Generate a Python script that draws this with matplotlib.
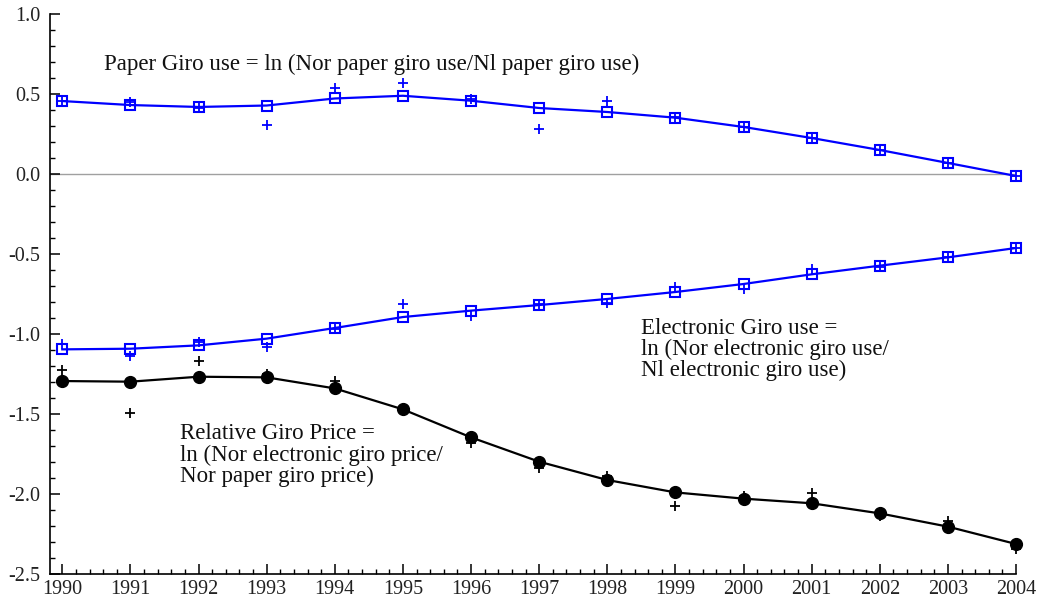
import matplotlib
matplotlib.use("Agg")
import matplotlib.pyplot as plt
from matplotlib.ticker import MultipleLocator, FormatStrFormatter

plt.rcParams['font.family'] = ['Liberation Serif', 'DejaVu Serif']
plt.rcParams['axes.unicode_minus'] = False

years = list(range(1990, 2005))

paper_fit = [0.456, 0.431, 0.419, 0.428, 0.472, 0.489, 0.458, 0.4125, 0.3875, 0.352,
             0.294, 0.225, 0.150, 0.069, -0.0125]
paper_act = [0.456, 0.450, 0.410, 0.304, 0.540, 0.571, 0.466, 0.279, 0.454, 0.356,
             0.294, 0.225, 0.150, 0.069, -0.0125]

elec_fit = [-1.096, -1.092, -1.071, -1.029, -0.9625, -0.894, -0.854, -0.819, -0.781, -0.7375,
            -0.6875, -0.627, -0.573, -0.521, -0.4625]
elec_act = [-1.065, -1.1375, -1.048, -1.079, -0.970, -0.815, -0.885, -0.810, -0.806, -0.708,
            -0.717, -0.596, -0.580, -0.520, -0.4625]

price_fit = [-1.294, -1.298, -1.267, -1.271, -1.340, -1.471, -1.646, -1.798, -1.9125, -1.990,
             -2.029, -2.058, -2.121, -2.204, -2.3125]
price_act = [-1.227, -1.496, -1.167, -1.250, -1.296, -1.460, -1.683, -1.840, -1.890, -2.075,
             -2.0125, -1.996, -2.140, -2.167, -2.344]

xtick_labels = [str(y) for y in years]

fig = plt.figure(figsize=(10.4, 5.98), dpi=100)
ax = fig.add_axes([50/1040, 1-574/598, (1016-50)/1040, (574-14)/598])

blue = '#0000ff'
ax.axhline(0, color='#a0a0a0', lw=1, zorder=1)

ax.plot(years, paper_act, ls='none', marker='+', ms=7, mec=blue, mew=1.3, clip_on=False, zorder=3)
ax.plot(years, paper_fit, color=blue, lw=1.6, marker='s', ms=6.5, mfc='none', mec=blue, mew=1.5, clip_on=False, zorder=4)
ax.plot(years, elec_act, ls='none', marker='+', ms=7, mec=blue, mew=1.3, clip_on=False, zorder=3)
ax.plot(years, elec_fit, color=blue, lw=1.6, marker='s', ms=6.5, mfc='none', mec=blue, mew=1.5, clip_on=False, zorder=4)
ax.plot(years, price_act, ls='none', marker='+', ms=7, mec='black', mew=1.3, clip_on=False, zorder=3)
ax.plot(years, price_fit, color='black', lw=1.6, marker='o', ms=8.5, mfc='black', mec='black', clip_on=False, zorder=4)

ax.set_xlim(1989.82, 2004)
ax.set_ylim(-2.5, 1.0)
ax.set_xticks(years)
ax.set_xticklabels(xtick_labels)
ax.xaxis.set_minor_locator(MultipleLocator(0.2))
ax.yaxis.set_major_locator(MultipleLocator(0.5))
ax.yaxis.set_minor_locator(MultipleLocator(0.1))
ax.yaxis.set_major_formatter(FormatStrFormatter('%.1f'))

for s in ['top', 'right']:
    ax.spines[s].set_visible(False)
for s in ['left', 'bottom']:
    ax.spines[s].set_linewidth(1.2)

ax.tick_params(axis='both', which='major', direction='in', length=7, width=1.1, labelsize=14.5, colors='black')
ax.tick_params(axis='both', which='minor', direction='in', length=3.5, width=1.0)
ax.tick_params(axis='y', which='major', pad=7)
ax.tick_params(axis='x', which='major', pad=4)
for lbl in ax.get_xticklabels() + ax.get_yticklabels():
    lbl.set_color('#222222')

fs = 16.5
txtc = '#111111'
def px2data(px, py):
    x = 1990 + (px - 62) / 68.14
    y = (174 - py) / 160
    return x, y

x, y = px2data(104, 70)
ax.text(x, y, 'Paper Giro use = ln (Nor paper giro use/Nl paper giro use)', fontsize=fs, va='baseline', ha='left', color=txtc)

for i, line in enumerate(['Electronic Giro use =', 'ln (Nor electronic giro use/', 'Nl electronic giro use)']):
    x, y = px2data(641, 334 + 21 * i)
    ax.text(x, y, line, fontsize=fs, va='baseline', ha='left', color=txtc)

for i, line in enumerate(['Relative Giro Price =', 'ln (Nor electronic giro price/', 'Nor paper giro price)']):
    x, y = px2data(180, 439.3 + 21.3 * i)
    ax.text(x, y, line, fontsize=fs, va='baseline', ha='left', color=txtc)

fig.savefig('out.png', dpi=100)
